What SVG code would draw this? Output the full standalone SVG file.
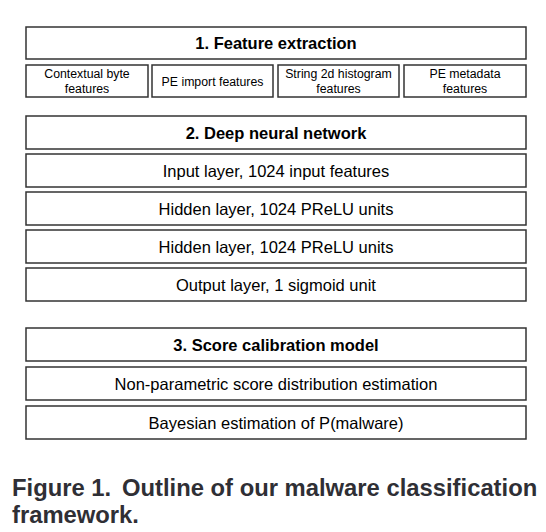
<svg xmlns="http://www.w3.org/2000/svg" width="546" height="532" viewBox="0 0 546 532">
<style>
rect.box{fill:#fff;stroke:#333;stroke-width:1.5}
text{font-family:"Liberation Sans",Arial,sans-serif;fill:#000;text-anchor:middle}
.hd{font-size:16.5px;font-weight:bold}
.ly{font-size:16.5px}
.sm{font-size:12.3px}
.cap{font-size:23.8px;font-weight:bold;fill:#2f2f35;text-anchor:start}
</style>
<rect width="546" height="532" fill="#fff"/>
<g id="connectors"></g>
<g id="feature-extraction"><rect class="box" x="26" y="27" width="500" height="32"/><text class="hd" x="276" y="49">1. Feature extraction</text></g>
<g id="contextual-byte"><rect class="box" x="26" y="65" width="122" height="32"/><text class="sm" x="87" y="78">Contextual byte</text><text class="sm" x="87" y="93">features</text></g>
<g id="pe-import"><rect class="box" x="152" y="65" width="121" height="32"/><text class="sm" x="212.5" y="86">PE import features</text></g>
<g id="string-histogram"><rect class="box" x="278" y="65" width="121" height="32"/><text class="sm" x="338.5" y="78">String 2d histogram</text><text class="sm" x="338.5" y="93">features</text></g>
<g id="pe-metadata"><rect class="box" x="404" y="65" width="122" height="32"/><text class="sm" x="465" y="78">PE metadata</text><text class="sm" x="465" y="93">features</text></g>
<g id="dnn"><rect class="box" x="26" y="116" width="500" height="33"/><text class="hd" x="276" y="139">2. Deep neural network</text></g>
<g id="input-layer"><rect class="box" x="26" y="154" width="500" height="33"/><text class="ly" x="276" y="177">Input layer, 1024 input features</text></g>
<g id="hidden-1"><rect class="box" x="26" y="192" width="500" height="33"/><text class="ly" x="276" y="215">Hidden layer, 1024 PReLU units</text></g>
<g id="hidden-2"><rect class="box" x="26" y="230" width="500" height="33"/><text class="ly" x="276" y="253">Hidden layer, 1024 PReLU units</text></g>
<g id="output-layer"><rect class="box" x="26" y="268" width="500" height="33"/><text class="ly" x="276" y="291">Output layer, 1 sigmoid unit</text></g>
<g id="score-calibration"><rect class="box" x="26" y="328" width="500" height="33"/><text class="hd" x="276" y="351">3. Score calibration model</text></g>
<g id="nonparametric"><rect class="box" x="26" y="367" width="500" height="33"/><text class="ly" x="276" y="390">Non-parametric score distribution estimation</text></g>
<g id="bayesian"><rect class="box" x="26" y="406" width="500" height="33"/><text class="ly" x="276" y="429">Bayesian estimation of P(malware)</text></g>
<g id="caption"><text class="cap" x="12" y="496">Figure 1.<tspan x="122">Outline of our malware classification</tspan></text><text class="cap" x="12" y="523">framework.</text></g>
</svg>
